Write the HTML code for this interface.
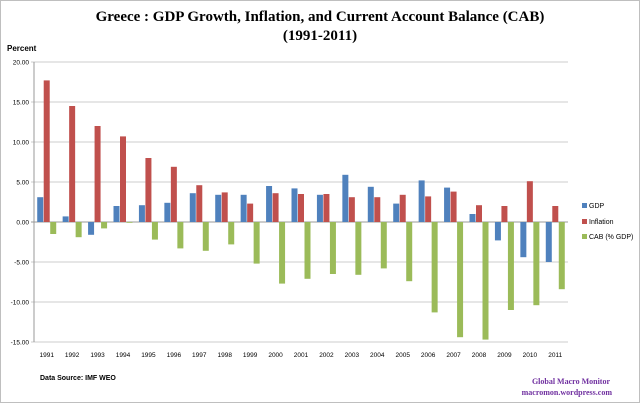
<!DOCTYPE html>
<html><head><meta charset="utf-8"><style>
html,body{margin:0;padding:0;background:#fff;}
svg{display:block;font-family:"Liberation Sans",sans-serif;}
</style></head><body>
<svg id="c" width="640" height="403" viewBox="0 0 640 403" xmlns="http://www.w3.org/2000/svg">
<rect x="0.5" y="0.5" width="639" height="402" fill="#fff" stroke="#bfbfbf"/>
<text x="320" y="21" text-anchor="middle" font-family="Liberation Serif,serif" font-weight="bold" font-size="15">Greece :  GDP Growth, Inflation, and Current Account Balance (CAB)</text>
<text x="320" y="40" text-anchor="middle" font-family="Liberation Serif,serif" font-weight="bold" font-size="15">(1991-2011)</text>
<text x="7" y="51" font-size="8" font-weight="bold">Percent</text>
<g id="g"></g>
<rect x="582" y="203" width="5" height="5" fill="#4f81bd"/><text x="589" y="208" font-size="7">GDP</text>
<rect x="582" y="219" width="5" height="5" fill="#c0504d"/><text x="589" y="224" font-size="7">Inflation</text>
<rect x="582" y="234" width="5" height="5" fill="#9bbb59"/><text x="589" y="239" font-size="7">CAB (% GDP)</text>
<text x="40" y="380" font-size="7" font-weight="bold">Data Source:  IMF WEO</text>
<text x="610" y="384" text-anchor="end" font-family="Liberation Serif,serif" font-weight="bold" font-size="8" fill="#7030a0">Global Macro Monitor</text>
<text x="612" y="395" text-anchor="end" font-family="Liberation Serif,serif" font-weight="bold" font-size="8" fill="#7030a0">macromon.wordpress.com</text>
</svg>
<script>
var g=document.getElementById('g'),s='';
var L=34,R=568;
function Y(v){return 222-v*8;}
for(var v=20;v>=-15;v-=5){var y=Y(v);
 s+='<line x1="'+(L-3)+'" y1="'+y+'" x2="'+R+'" y2="'+y+'" stroke="#999" stroke-width="'+(v==0?1:0.6)+'"/>';
 s+='<text x="29" y="'+(y+2.5)+'" text-anchor="end" font-size="6.5">'+v.toFixed(2)+'</text>';}
s+='<line x1="'+L+'" y1="62" x2="'+L+'" y2="342" stroke="#999"/>';
var gdp=[3.1,0.7,-1.6,2.0,2.1,2.4,3.6,3.4,3.4,4.5,4.2,3.4,5.9,4.4,2.3,5.2,4.3,1.0,-2.3,-4.4,-5.0];
var inf=[17.7,14.5,12.0,10.7,8.0,6.9,4.6,3.7,2.3,3.6,3.5,3.5,3.1,3.1,3.4,3.2,3.8,2.1,2.0,5.1,2.0];
var cab=[-1.5,-1.9,-0.8,-0.1,-2.2,-3.3,-3.6,-2.8,-5.2,-7.7,-7.1,-6.5,-6.6,-5.8,-7.4,-11.3,-14.4,-14.7,-11.0,-10.4,-8.4];
var w=(R-L)/21;
function bar(x,v,c){var y0=Y(0),y1=Y(v);s+='<rect x="'+x+'" y="'+Math.min(y0,y1)+'" width="6" height="'+Math.abs(y1-y0)+'" fill="'+c+'"/>';}
for(var i=0;i<21;i++){var cx=L+w*(i+0.5);
 bar(cx-9.5,gdp[i],'#4f81bd');bar(cx-3,inf[i],'#c0504d');bar(cx+3.5,cab[i],'#9bbb59');
 s+='<text x="'+cx+'" y="357" text-anchor="middle" font-size="6.5">'+(1991+i)+'</text>';}
g.innerHTML=s;
</script>
</body></html>
